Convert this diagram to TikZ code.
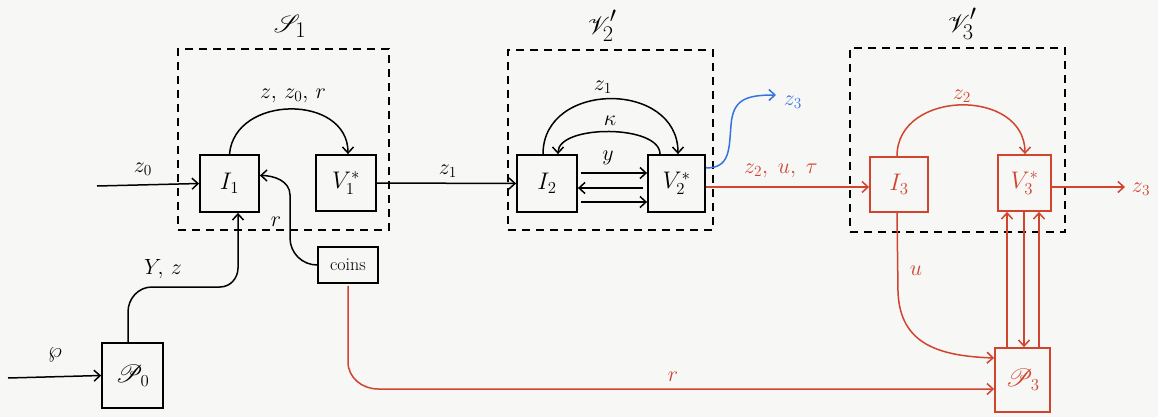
\RequirePackage{fix-cm}
\documentclass[tikz,border=0pt]{standalone}
\usepackage{mathrsfs}
\usetikzlibrary{arrows.meta,calc}
\definecolor{hred}{RGB}{208,68,48}
\definecolor{hblue}{RGB}{52,116,226}
\definecolor{bgc}{RGB}{247,247,245}
\begin{document}
\begin{tikzpicture}[x=1pt,y=-1pt,
  box/.style={draw, line width=1.8pt, inner sep=0pt, font=\fontsize{24}{26}\selectfont},
  grp/.style={draw, line width=1.7pt, dash pattern=on 8pt off 6pt, inner sep=0pt},
  conn/.style={line width=1.5pt, -{Straight Barb[length=6pt,width=11pt]}},
  lbl/.style={font=\fontsize{22}{24}\selectfont, inner sep=1pt},
  ttl/.style={font=\fontsize{32}{34}\selectfont, inner sep=0pt}]
\fill[bgc] (0,0) rectangle (1158,417);
\useasboundingbox (0,0) rectangle (1158,417);

% groups
\node[grp, minimum width=211pt, minimum height=181pt] (S1) at (283.5,139.5) {};
\node[grp, minimum width=205pt, minimum height=180pt] (G2) at (610.5,140) {};
\node[grp, minimum width=215pt, minimum height=184pt] (G3) at (957.5,140) {};
\node[ttl] (tS1) at (290,26) {$\mathscr{S}_1$};
\node[ttl] (tG2) at (602,26) {$\mathscr{V}_2'$};
\node[ttl] (tG3) at (962,24) {$\mathscr{V}_3'$};

% boxes
\node[box, minimum width=59pt, minimum height=57pt] (I1) at (229.5,183.5) {$I_1$};
\node[box, minimum width=60pt, minimum height=56pt] (V1) at (346,183) {$V_1^*$};
\node[box, minimum width=60pt, minimum height=36pt, font=\fontsize{18}{20}\selectfont] (coins) at (348,265) {coins};
\node[box, minimum width=61pt, minimum height=65pt] (P0) at (132.5,375.5) {$\mathscr{P}_0$};
\node[box, minimum width=60pt, minimum height=57pt] (I2) at (547,183.5) {$I_2$};
\node[box, minimum width=57pt, minimum height=57pt] (V2) at (676.5,183.5) {$V_2^*$};
\node[box, draw=hred, text=hred, minimum width=58pt, minimum height=55pt] (I3) at (899,184.5) {$I_3$};
\node[box, draw=hred, text=hred, minimum width=53pt, minimum height=56pt] (V3) at (1024.5,183) {$V_3^*$};
\node[box, draw=hred, text=hred, minimum width=55pt, minimum height=64pt] (P3) at (1022.5,380) {$\mathscr{P}_3$};

% free ends
\coordinate (z0in) at (97,186);
\coordinate (wpin) at (8,378);
\coordinate (z3b) at (776,95);
\coordinate (z3r) at (1125,187);

% S1 connectors
\draw[conn] (z0in) -- (I1.west);
\node[lbl] (lz0) at (143,169) {$z_0$};
\draw[conn] (I1.north) to[out=85,in=90,looseness=1.3] ([xshift=2pt]V1.north);
\node[lbl] (lzz) at (293,96) {$z,\, z_0,\, r$};
\draw[conn] (coins.west) to[out=180,in=-90] (290,238) -- (290,195) to[out=90,in=0] ([yshift=8pt]I1.east);
\node[lbl] (lr1) at (276,222) {$r$};
\draw[conn] (wpin) -- (P0.west);
\node[lbl] (lwp) at (55,355) {$\wp$};
\draw[conn] ([xshift=-4.5pt]P0.north) -- (128,312) to[out=90,in=180] (152,287) -- (220,287) to[out=0,in=-90] (238,268) -- ([xshift=8.5pt]I1.south);
\node[lbl] (lyz) at (163,269) {$Y\!,\, z$};
\draw[conn] (V1.east) -- (I2.west);
\node[lbl] (lz1) at (448,171) {$z_1$};

% V2' connectors
\draw[conn] ([xshift=-4pt]I2.north) to[out=90,in=90,looseness=1.4] ([xshift=1.5pt]V2.north);
\node[lbl] (lz1b) at (603,87) {$z_1$};
\draw[conn] ([xshift=-16.5pt]V2.north) to[out=90,in=90,looseness=0.75] ([xshift=11pt]I2.north);
\node[lbl] (lk) at (610,121) {$\kappa$};
\draw[conn] ([xshift=3pt,yshift=10.5pt]I2.east) -- ([yshift=10.5pt]V2.west);
\draw[conn] ([xshift=-4pt,yshift=-4.5pt]V2.west) -- ([yshift=-4.5pt]I2.east);
\draw[conn] ([xshift=3pt,yshift=-18.5pt]I2.east) -- ([yshift=-18.5pt]V2.west);
\node[lbl] (ly) at (608,158) {$y$};
\draw[conn, hblue] ([yshift=15.5pt]V2.east) .. controls (730,168) and (729,150) .. (731,125) .. controls (733,100) and (745,95) .. (z3b);
\node[lbl, text=hblue] (lz3b) at (793,102) {$z_3$};
\draw[conn, hred] ([yshift=-3.5pt]V2.east) -- ([yshift=-2.5pt]I3.west);
\node[lbl, text=hred] (lzut) at (781,171) {$z_2,\; u,\; \tau$};

% V3' connectors
\draw[conn, hred] ([xshift=-2pt]I3.north) to[out=90,in=90,looseness=1.33] ([xshift=0.5pt]V3.north);
\node[lbl, text=hred] (lz2) at (962,96) {$z_2$};
\draw[conn, hred] ([yshift=-4pt]V3.east) -- (z3r);
\node[lbl, text=hred] (lz3r) at (1141,189) {$z_3$};
\draw[conn, hred] ([xshift=-2pt]I3.south) -- (898,292) .. controls (900,345) and (940,356) .. ([yshift=22pt]P3.west);
\node[lbl, text=hred] (lu) at (916,271) {$u$};
\draw[conn, hred] ([xshift=-15.5pt]P3.north) -- ([xshift=-17.5pt]V3.south);
\draw[conn, hred] ([xshift=-0.5pt]V3.south) -- ([xshift=1.5pt]P3.north);
\draw[conn, hred] ([xshift=16.5pt]P3.north) -- ([xshift=14.5pt]V3.south);
\draw[conn, hred] ([yshift=-2pt]coins.south) -- (348,362) to[out=-90,in=180] (378,389) -- ([yshift=-9pt]P3.west);
\node[lbl, text=hred] (lr2) at (673,377) {$r$};
\end{tikzpicture}
\end{document}
